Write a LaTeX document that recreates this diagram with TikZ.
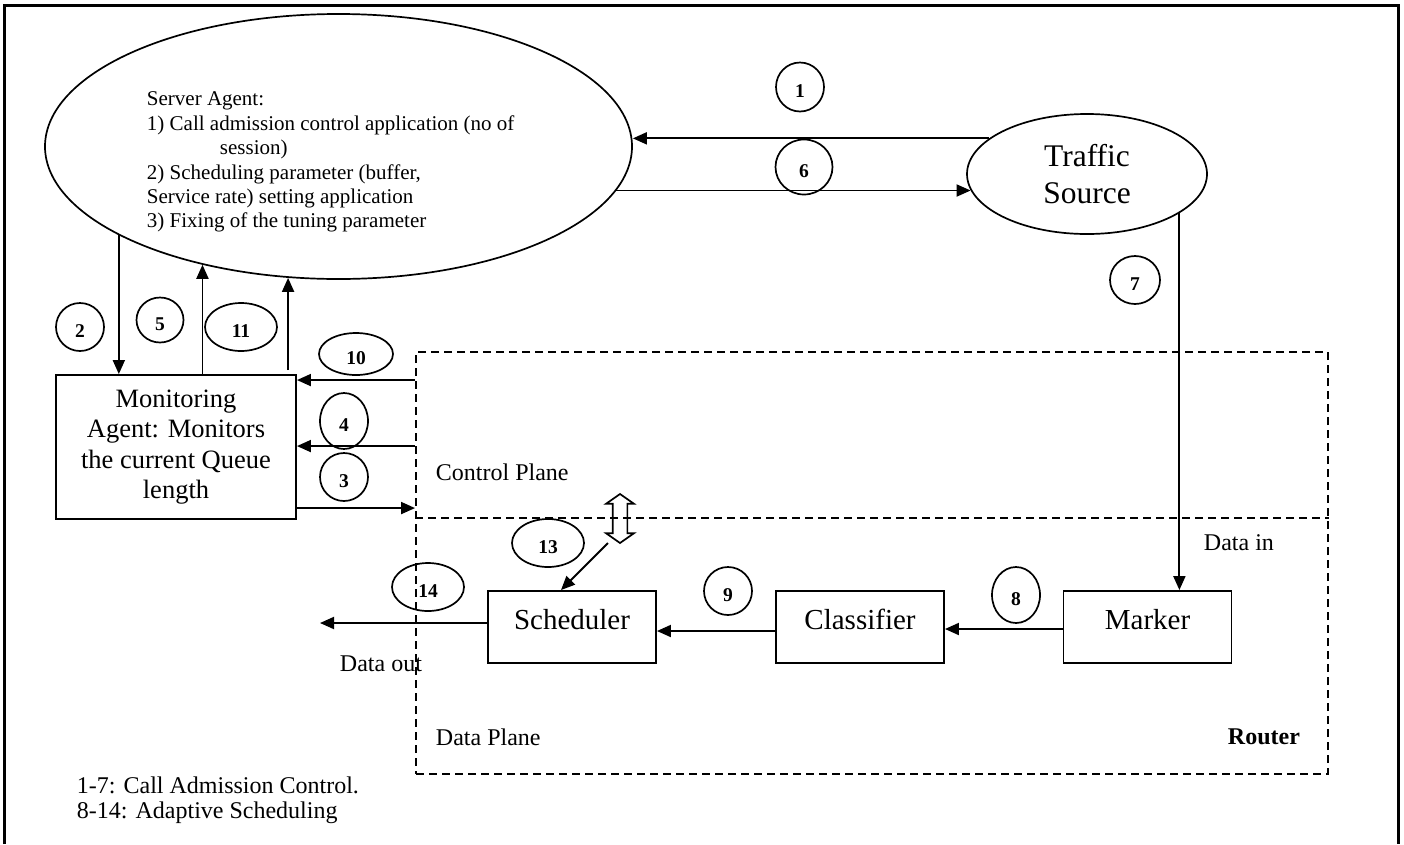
\documentclass[tikz,border=0pt]{standalone}
\usepackage{fontspec}
\setmainfont{Liberation Serif}
\usetikzlibrary{shapes.geometric,shapes.arrows,arrows.meta,calc}
\newcommand\fsz[2]{\fontsize{#1}{#2}\selectfont}
\newcommand\nraise[1]{\raisebox{-4pt}{#1}}
\begin{document}
\begin{tikzpicture}[x=1pt,y=-1pt,
  line width=1.9pt,
  arr/.style={-{Triangle[length=14pt,width=12pt]}, line width=1.9pt},
  box/.style={draw, rectangle, line width=1.9pt, inner sep=0pt},
  rbox/.style={box, minimum width=168pt, minimum height=72pt, font=\fsz{29}{33}, text height=20pt, text depth=16pt},
  num/.style={draw, ellipse, line width=1.7pt, inner sep=0pt, font=\bfseries\fsz{19.5}{21}, text height=13pt, text depth=0pt},
  lbl/.style={inner sep=0pt, font=\fsz{24}{25}},
  dashline/.style={dash pattern=on 8pt off 5pt, line width=1.9pt}
]
\useasboundingbox (0,0) rectangle (1404,844);
\draw[line width=3pt] (4,844) -- (4,5) -- (1398,5) -- (1398,844);

% main nodes
\node[draw, ellipse, line width=1.7pt, minimum width=587pt, minimum height=265pt, inner sep=0pt] (server) at (338.5,146.5) {};
\node[anchor=north west, align=left, inner sep=0pt, font=\fsz{21}{24.4}] (servertext) at (146,91)
  {Server Agent:\\1) Call admission control application (no of\\\hspace*{73pt}session)\\2) Scheduling parameter (buffer,\\Service rate) setting application\\3) Fixing of the tuning parameter};
\node[draw, ellipse, line width=1.7pt, minimum width=240pt, minimum height=120pt, inner sep=0pt, align=center, font=\fsz{31.5}{37}] (ts) at (1087,174) {Traffic\\Source};
\node[box, minimum width=240pt, minimum height=144pt, align=center, font=\fsz{26.5}{30.5}] (mon) at (176,447) {Monitoring\\Agent: Monitors\\the current Queue\\length};

% router planes
\node[draw, dashline, minimum width=912pt, minimum height=422pt, inner sep=0pt] (router) at (872,563) {};
\coordinate (div) at ($(router.north west)+(0,167)$);
\draw[dashline] (div) -- (div -| router.east);

\node[rbox] (sched) at (572,627) {Scheduler};
\node[rbox] (cls) at (860,627) {Classifier};
\node[rbox] (mark) at (1147.5,627) {Marker};

\node[draw, double arrow, rotate=90, line width=1.7pt, minimum height=49pt, minimum width=26pt, inner sep=6.5pt, double arrow head extend=6.5pt, double arrow tip angle=110] (dbl) at (620,518.5) {};

% labels
\node[lbl, anchor=west] (cptext) at (435,472) {Control Plane};
\node[lbl, anchor=west] (dptext) at (435,737) {Data Plane};
\node[lbl, anchor=west, font=\bfseries\fsz{24}{25}] (rtext) at (1227,737) {Router};
\node[lbl, anchor=west] (din) at (1203,543) {Data in};
\node[lbl, anchor=west] (dout) at (339,664) {Data out};
\node[lbl, anchor=north west, align=left] (legend) at (76,776) {1-7: Call Admission Control.\\8-14: Adaptive Scheduling};

% numbered circles
\node[num, minimum width=48pt, minimum height=49pt] (n1) at (800,87) {\nraise{1}};
\node[num, minimum width=57pt, minimum height=55pt] (n6) at (804,167) {\nraise{6}};
\node[num, minimum width=50pt, minimum height=48pt] (n7) at (1135,280) {\nraise{7}};
\node[num, minimum width=48pt, minimum height=48pt] (n2) at (80,327) {\nraise{2}};
\node[num, minimum width=47pt, minimum height=45pt] (n5) at (160,320) {\nraise{5}};
\node[num, minimum width=72pt, minimum height=48pt] (n11) at (241,327) {\nraise{11}};
\node[num, minimum width=74pt, minimum height=42pt] (n10) at (356,354) {\nraise{10}};
\node[num, minimum width=48pt, minimum height=56pt] (n4) at (344,421) {\nraise{4}};
\node[num, minimum width=48pt, minimum height=48pt] (n3) at (344,477) {\nraise{3}};
\node[num, minimum width=72pt, minimum height=48pt] (n13) at (548,543) {\nraise{13}};
\node[num, minimum width=72pt, minimum height=48pt] (n14) at (428,587) {\nraise{14}};
\node[num, minimum width=48pt, minimum height=48pt] (n9) at (728,591) {\nraise{9}};
\node[num, minimum width=48pt, minimum height=56pt] (n8) at (1016,595) {\nraise{8}};

% connectors
\coordinate (t1) at (ts.160);
\draw[arr] (t1) -- (server.east |- t1);
\coordinate (s6) at (server.-9.6);
\draw[arr] (s6) -- (ts.188 |- s6);
\draw[arr] (ts.-23.8) -- (ts.-23.8 |- mark.north);
\draw[arr] (server.-158.6) -- (server.-158.6 |- mon.north);
\draw[arr] (server.-139.9 |- mon.north) -- (server.-139.9);
\coordinate (s11) at (server.-111.15);
\draw[arr] ($(s11 |- mon.north)+(0,-4)$) -- (s11);
\coordinate (in10) at ($(router.north west)+(0,29)$);
\coordinate (in4) at ($(router.north west)+(0,95)$);
\coordinate (out3) at ($(router.north west)+(0,157)$);
\draw[arr] (in10) -- (in10 -| mon.east);
\draw[arr] (in4) -- (in4 -| mon.east);
\draw[arr] (out3 -| mon.east) -- (out3);
\coordinate (c13) at ($(dbl.center)+(-12,24.5)$);
\draw[arr] (c13) -- ($(sched.north)+(-11,0)$);
\draw[arr] ($(cls.west)+(0,4)$) -- ($(sched.east)+(0,4)$);
\draw[arr] ($(mark.west)+(0,2)$) -- ($(cls.east)+(0,2)$);
\coordinate (dataout) at (320,623);
\draw[arr] ($(sched.west)+(0,-4)$) -- (dataout);
\end{tikzpicture}
\end{document}
